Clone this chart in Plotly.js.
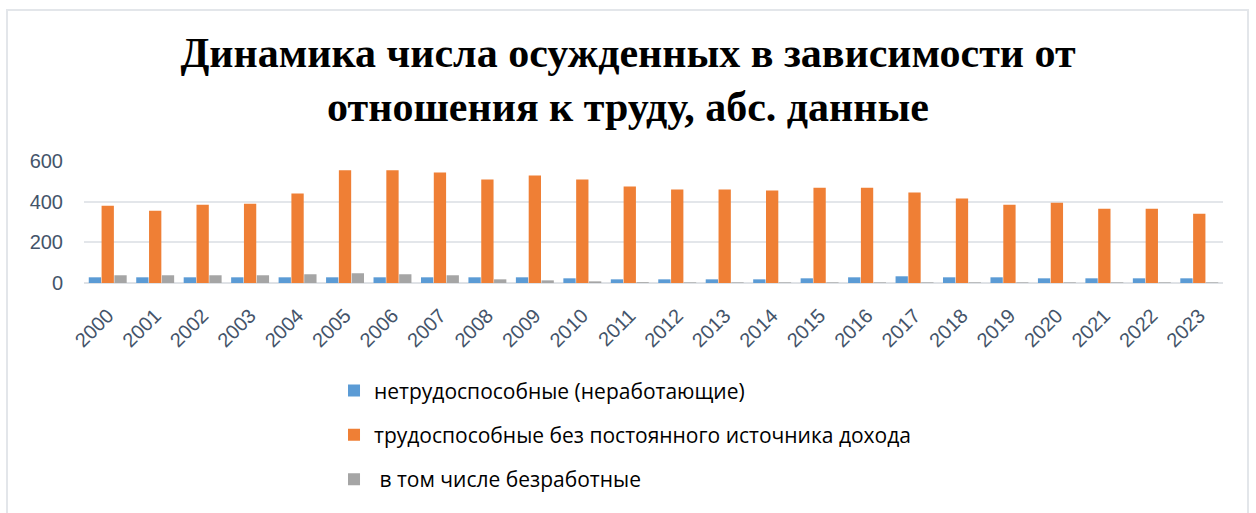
<!DOCTYPE html>
<html>
<head>
<meta charset="utf-8">
<script src="https://cdn.plot.ly/plotly-3.0.1.min.js"></script>
<style>
  html, body { margin: 0; padding: 0; background: #ffffff; }
  #wrap { position: relative; width: 1256px; height: 513px; overflow: hidden; }
  #frame { position: absolute; left: 6px; top: 9px; width: 1243px; height: 520px; border: 2px solid #e3e6ea; box-sizing: border-box; pointer-events: none; }
  #chart { position: absolute; left: 0; top: 0; width: 1256px; height: 513px; }
</style>
</head>
<body>
<div id="wrap">
  <div id="chart"></div>
  <div id="frame"></div>
</div>
<script>
const years = ["2000","2001","2002","2003","2004","2005","2006","2007","2008","2009","2010","2011",
               "2012","2013","2014","2015","2016","2017","2018","2019","2020","2021","2022","2023"];
const disabled = [28,28,28,28,28,28,28,28,28,28,23,18,18,18,18,23,28,33,28,28,23,23,23,23];
const ableNoIncome = [380,355,385,390,440,554,554,544,509,529,509,474,460,460,455,469,469,445,415,385,395,365,365,340];
const unemployed = [38,38,38,38,43,48,43,38,18,13,8,4,3,3,3,3,3,3,3,3,3,3,3,3];
const seriesNames = ["нетрудоспособные (неработающие)",
                     "трудоспособные без постоянного источника дохода",
                     " в том числе безработные"];
const chartTitle = "Динамика числа осужденных в зависимости от<br>отношения к труду, абс. данные";

const traces = [
  {type:"bar", x:years, y:disabled, name:seriesNames[0], marker:{color:"#5b9bd5"}, legendgroup:"a"},
  {type:"bar", x:years, y:ableNoIncome, name:seriesNames[1], marker:{color:"#ef7f35"}, legendgroup:"b"},
  {type:"bar", x:years, y:unemployed, name:seriesNames[2], marker:{color:"#a5a5a5"}, legendgroup:"c"}
];

const layout = {
  width:1256, height:513,
  margin:{l:84, r:33, t:161, b:230},
  paper_bgcolor:"rgba(0,0,0,0)", plot_bgcolor:"#ffffff",
  title:{text:chartTitle, x:0.5, xanchor:"center", xref:"container", y:0.87, yanchor:"middle", yref:"container",
         font:{family:"Liberation Serif, Times New Roman, serif", size:42, color:"#000000", weight:"bold"}},
  barmode:"group", bargap:0.19, bargroupgap:0.04,
  xaxis:{type:"category", tickangle:-45, tickfont:{family:"Liberation Sans, Arial, sans-serif", size:20, color:"#44546a"},
         showgrid:false, showline:false, ticks:"outside", ticklen:12, tickcolor:"rgba(0,0,0,0)", fixedrange:true, automargin:false},
  yaxis:{range:[0,600], dtick:200, tickfont:{family:"Liberation Sans, Arial, sans-serif", size:20, color:"#44546a"},
         gridcolor:"#e3e6ea", gridwidth:2, zeroline:true, zerolinecolor:"#dfe2e6", zerolinewidth:2,
         showline:false, ticks:"outside", ticklen:16, tickcolor:"rgba(0,0,0,0)", fixedrange:true, automargin:false},
  showlegend:true,
  legend:{orientation:"v", x:0.2195, xanchor:"left", xref:"paper", y:0.278, yanchor:"top", yref:"container", tracegroupgap:14,
          font:{family:"Open Sans, Liberation Sans, sans-serif", size:21, color:"#000000"},
          itemwidth:30, bgcolor:"rgba(0,0,0,0)"}
};

Plotly.newPlot("chart", traces, layout, {displayModeBar:false, staticPlot:true});
</script>
</body>
</html>
